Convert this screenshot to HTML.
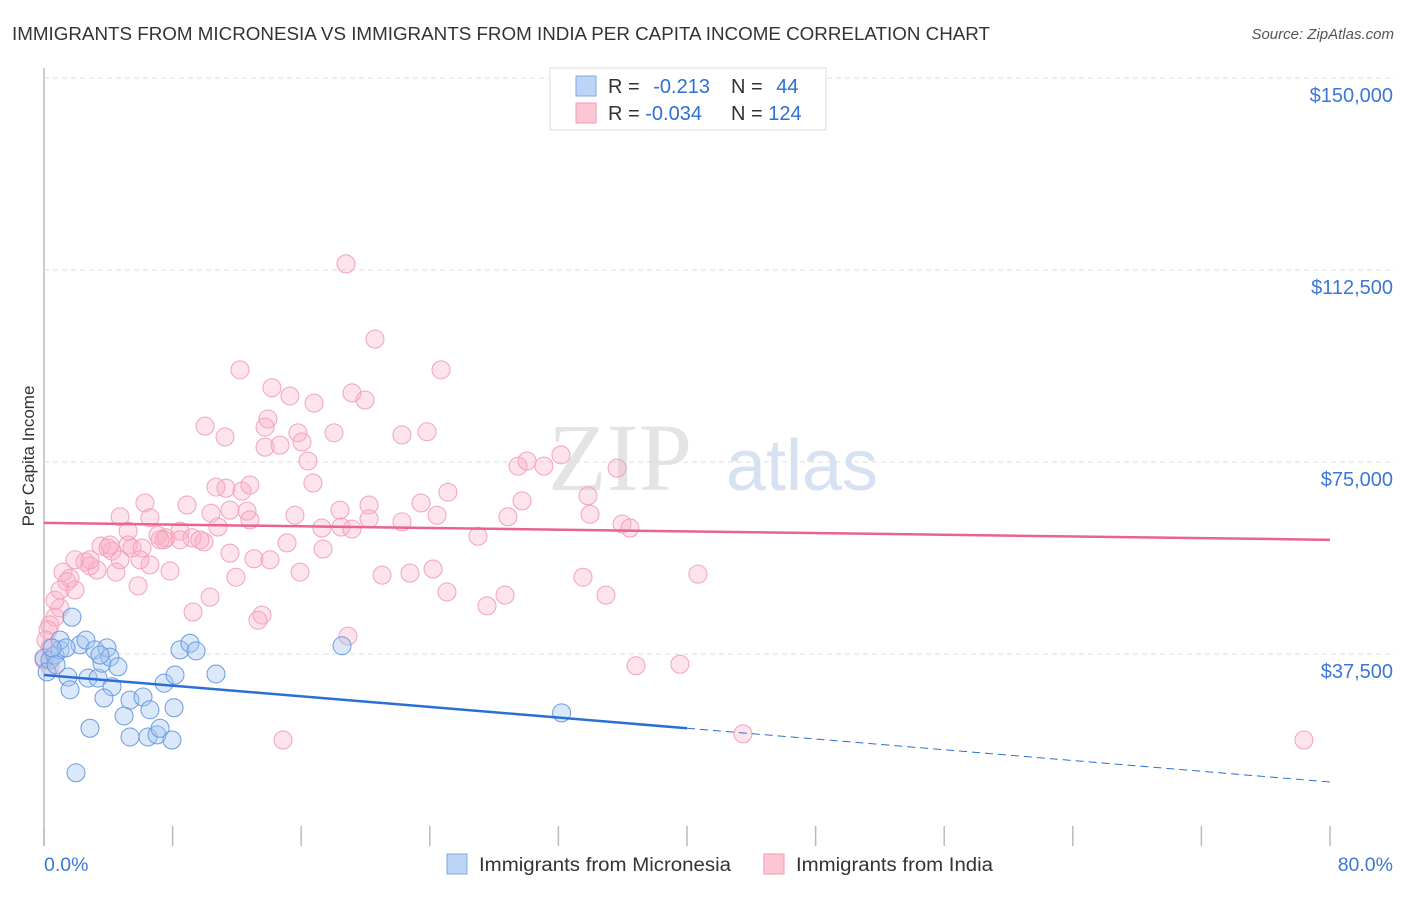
<!DOCTYPE html>
<html><head><meta charset="utf-8"><style>
body{margin:0;background:#fff;font-family:"Liberation Sans",sans-serif}
svg text{font-family:"Liberation Sans",sans-serif}
</style></head><body>
<svg id="c" width="1406" height="892" xmlns="http://www.w3.org/2000/svg">
<text x="12" y="40" font-size="18" fill="#333" textLength="978" lengthAdjust="spacingAndGlyphs">IMMIGRANTS FROM MICRONESIA VS IMMIGRANTS FROM INDIA PER CAPITA INCOME CORRELATION CHART</text>
<text x="1394" y="39" font-size="15" fill="#555" text-anchor="end" font-style="italic">Source: ZipAtlas.com</text>
<text x="620" y="490" font-size="96" fill="#e4e4e4" text-anchor="middle" style="font-family:'Liberation Serif',serif">ZIP</text>
<text x="802" y="490" font-size="72" fill="#d6e2f2" text-anchor="middle">atlas</text>
<g id="grid"></g>
<g id="marks"></g>
<text transform="translate(34,456) rotate(-90)" font-size="17" fill="#333" text-anchor="middle">Per Capita Income</text>
<g>
<rect x="550" y="68" width="276" height="62" fill="#fff" stroke="#ddd"/>
<rect x="576" y="76" width="20" height="20" fill="#bcd4f5" stroke="#7fa9e3"/>
<rect x="576" y="103" width="20" height="20" fill="#fcc6d4" stroke="#f09ab4"/>
<text x="608" y="93" font-size="20" fill="#333">R = <tspan fill="#2f6fd3" dx="8">-0.213</tspan></text>
<text x="731" y="93" font-size="20" fill="#333">N = <tspan fill="#2f6fd3" dx="8">44</tspan></text>
<text x="608" y="120" font-size="20" fill="#333">R = <tspan fill="#2f6fd3">-0.034</tspan></text>
<text x="731" y="120" font-size="20" fill="#333">N = <tspan fill="#2f6fd3">124</tspan></text>
</g>
<g>
<rect x="447" y="854" width="20" height="20" fill="#bcd4f5" stroke="#7fa9e3"/>
<text x="479" y="871" font-size="19" fill="#333" textLength="252" lengthAdjust="spacingAndGlyphs">Immigrants from Micronesia</text>
<rect x="764" y="854" width="20" height="20" fill="#fcc6d4" stroke="#f09ab4"/>
<text x="796" y="871" font-size="19" fill="#333" textLength="197" lengthAdjust="spacingAndGlyphs">Immigrants from India</text>
</g>
</svg>
<script>
const yTicks=[37500,75000,112500,150000];
const yTickLabels=["$37,500","$75,000","$112,500","$150,000"];
const xTickVals=[0,8,16,24,32,40,48,56,64,72,80];
const xEndLabels=["0.0%","80.0%"];
const blueX=[0,0.37,0.68,0.19,1.0,1.74,1.49,1.62,2.24,2.61,2.74,3.17,3.36,3.61,3.92,4.1,4.23,3.73,2.86,4.6,4.98,5.35,5.35,6.16,6.47,6.59,7.03,7.22,7.47,7.96,8.09,8.15,8.46,9.08,9.46,10.7,18.54,32.2,1.99,1.0,1.37,0.5,0.75,3.48];
const blueY=[36.7,36.3,37.3,34.0,38.3,44.7,33.0,30.5,39.3,40.2,32.8,38.3,32.8,35.7,38.7,36.9,31.1,28.9,23.0,35.0,25.4,28.5,21.3,29.1,21.3,26.6,21.7,23.0,31.8,20.7,27.0,33.4,38.3,39.6,38.1,33.6,39.1,26.0,14.3,40.2,38.7,38.7,35.4,37.3];
const pinkX=[18.79,20.59,12.19,24.70,14.18,19.16,15.30,19.97,16.80,13.93,10.02,11.26,13.75,15.80,14.68,16.05,18.04,22.27,23.83,13.75,16.42,29.49,31.10,30.05,32.16,35.65,16.73,25.13,10.70,11.32,12.32,12.81,33.84,29.74,6.28,8.90,12.63,10.39,15.61,18.41,20.22,23.45,24.45,28.86,33.97,35.96,36.45,27.0,6.59,4.73,5.23,7.09,7.59,8.46,9.21,9.95,10.82,17.29,18.48,19.16,22.27,20.22,7.46,8.46,5.23,5.47,4.23,3.55,3.98,6.10,11.57,13.06,17.36,15.12,1.93,2.55,3.30,2.86,1.18,1.62,4.48,7.84,5.97,11.94,15.93,21.03,22.77,24.20,33.53,40.68,5.85,1.43,10.33,9.27,13.56,13.31,25.07,27.56,28.68,34.96,18.91,1.0,0.68,0.37,0.25,0.12,0.37,0,0.37,14.87,43.48,78.38,36.83,39.56,0.68,1.0,2.86,4.1,6.59,7.22,9.7,11.57,12.81,14.06,4.73,1.93];
const pinkY=[113.7,99.0,93.0,93.0,89.5,88.5,87.9,87.1,86.5,83.4,82.0,79.9,81.8,80.7,78.3,78.9,80.7,80.3,80.9,77.9,75.2,74.2,74.2,75.2,76.4,73.8,70.9,69.1,70.1,69.9,69.3,70.5,68.4,67.4,67.0,66.6,65.4,65.0,64.6,65.6,66.6,67.0,64.6,64.3,64.8,62.9,62.1,60.5,64.1,64.3,61.5,60.7,60.2,61.5,60.2,59.4,62.3,62.1,62.3,61.9,63.3,63.9,59.8,59.8,58.8,58.2,57.6,58.6,58.2,58.2,57.2,56.1,58.0,59.2,55.9,55.5,53.9,54.7,53.5,52.3,53.5,53.7,55.9,52.5,53.5,52.9,53.3,54.1,52.5,53.1,50.8,51.6,48.6,45.7,45.1,44.1,49.6,46.9,49.0,49.0,41.0,46.5,44.7,43.2,42.2,40.2,38.7,36.3,35.0,20.7,21.9,20.7,35.2,35.5,48.0,50.0,55.9,58.8,54.9,59.8,59.8,65.6,63.7,55.9,55.9,50.0];
const blueTrendX=[0,40,80];
const blueTrendY=[33.4,23.0,12.5];
const pinkTrendX=[0,80];
const pinkTrendY=[63.1,59.8];
const NS="http://www.w3.org/2000/svg";
const X=v=>44+v*(1286/80);
const Y=v=>846-v*(192/37500);
const Yk=v=>Y(v*1000);
const grid=document.getElementById('grid'),marks=document.getElementById('marks');
function mk(tag,attrs,parent){const e=document.createElementNS(NS,tag);for(const k in attrs)e.setAttribute(k,attrs[k]);parent.appendChild(e);return e;}
const gl=mk('line',{x1:44,y1:68,x2:44,y2:846,stroke:'#bbb','stroke-width':1.5},grid);


yTicks.forEach((t,i)=>{
 const l=mk('line',{x1:44,y1:Y(t),x2:1395,y2:Y(t),stroke:'#ddd','stroke-dasharray':'5,4'},grid);
 
 
 const tx=mk('text',{x:1393,y:Y(t)+24,'font-size':20,fill:'#3b78d8','text-anchor':'end'},grid);
 tx.textContent=yTickLabels[i];
 
 
});
xTickVals.forEach(v=>{
 const l=mk('line',{x1:X(v),y1:826,x2:X(v),y2:846,stroke:'#bbb','stroke-width':1.5},grid);
 
 
});
[[0,'start',44],[80,'end',1393]].forEach((a,i)=>{
 const t=mk('text',{x:a[2],y:871,'font-size':19.5,fill:'#3b78d8','text-anchor':a[1]},grid);
 t.textContent=xEndLabels[i];
 
 
});
pinkX.forEach((v,i)=>{
 const c=mk('circle',{cx:X(v),cy:Yk(pinkY[i]),r:9,fill:'rgba(248,175,198,0.35)',stroke:'#f2a3bb','stroke-width':1},marks);
 
 
});
blueX.forEach((v,i)=>{
 const c=mk('circle',{cx:X(v),cy:Yk(blueY[i]),r:9,fill:'rgba(165,198,240,0.4)',stroke:'#6b9be0','stroke-width':1},marks);
 
 
});
const b1=mk('line',{x1:X(blueTrendX[0]),y1:Yk(blueTrendY[0]),x2:X(blueTrendX[1]),y2:Yk(blueTrendY[1]),stroke:'#2a6fd6','stroke-width':2.5},marks);


const b2=mk('line',{x1:X(blueTrendX[1]),y1:Yk(blueTrendY[1]),x2:X(blueTrendX[2]),y2:Yk(blueTrendY[2]),stroke:'#2a6fd6','stroke-width':1,'stroke-dasharray':'8,5'},marks);


const p1=mk('line',{x1:X(pinkTrendX[0]),y1:Yk(pinkTrendY[0]),x2:X(pinkTrendX[1]),y2:Yk(pinkTrendY[1]),stroke:'#e8638e','stroke-width':2.5},marks);


</script>
</body></html>
